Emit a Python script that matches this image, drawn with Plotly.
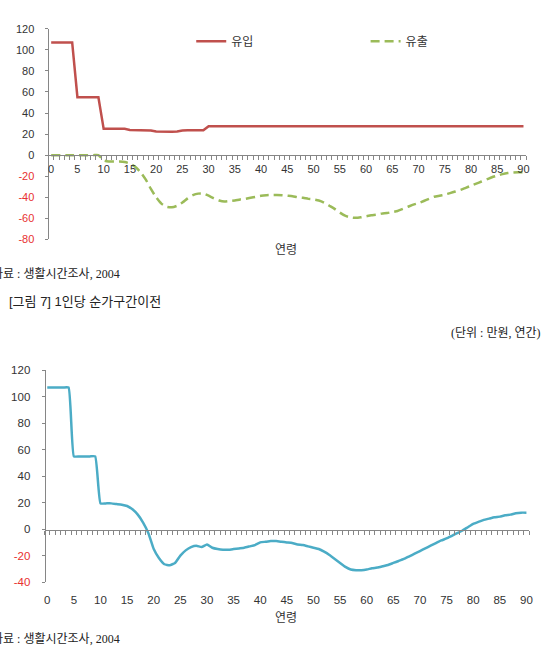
import plotly.graph_objects as go

W, H = 542, 667

ages = list(range(0, 91))
tick_vals = list(range(0, 91, 5))

inflow = [107, 107, 107, 107, 107, 55, 55, 55, 55, 55,
          25, 25, 25, 25, 25, 24, 24, 24, 24, 23.5,
          22.5, 22.3, 22.3, 22.3, 22.5, 23.5, 23.6, 23.6, 23.6, 23.6,
          27.5] + [27.5] * 60

outflow = [0, 0, 0, 0, 0, 0, 0, 0, 0, 0,
           -5, -6, -6, -6, -6.5, -8, -11, -16, -23, -32,
           -40, -46, -49, -49.5, -48, -45, -41, -38, -36.5, -36.5,
           -38.5, -41, -43, -44, -43.5, -43, -42, -41.5, -40.5, -39.5,
           -38.5, -38, -37.8, -37.8, -38, -38.5, -39, -40, -40.5, -41.5,
           -42, -43, -45, -48, -51, -54.5, -57.5, -59, -59.5, -59,
           -58, -57, -56.5, -55.5, -55, -54, -53, -51, -49, -47,
           -45.5, -43.5, -41.5, -39.5, -38.5, -37.5, -36, -34.5, -33, -31,
           -29, -27, -25, -23, -21, -19.5, -18, -17, -16.5, -16.3, -16.3]

net = [107, 107, 107, 107, 107, 55, 55, 55, 55, 55,
       19.5, 19.5, 19.5, 19, 18.5, 17.5, 15, 11, 5, -3,
       -15, -22, -26.5, -27.2, -25.5, -20, -16, -13.5, -12.5, -13.5,
       -11.5, -14, -15, -15.5, -15.5, -15, -14.5, -14, -13, -12,
       -10, -9.5, -9, -9, -9.5, -10, -10.5, -11.5, -12, -13,
       -14, -15, -17, -19.5, -22.5, -25.5, -28.5, -30.5, -31, -31,
       -30.5, -29.5, -29, -28, -27, -25.5, -24, -22.5, -20.5, -18.5,
       -16.5, -14.5, -12.5, -10.5, -8.5, -7, -5, -3, -1, 1.5,
       4, 5.5, 7, 8, 9, 9.5, 10.5, 11, 12, 12.5, 12.5]

top_y_vals = [120, 100, 80, 60, 40, 20, 0, -20, -40, -60, -80]
bot_y_vals = [120, 100, 80, 60, 40, 20, 0, -20, -40]

RED = "#C0504D"
GREEN = "#9BBB59"
BLUE = "#4BACC6"
AXIS = "#868686"
TXT = "#333333"
NEG = "#E8312F"
SANS = "Liberation Sans, Noto Sans CJK KR, sans-serif"
SERIF = "Liberation Serif, Noto Sans CJK KR, serif"


def px_x(p):
    return p / W


def px_y(p):
    return 1 - p / H


def tick_text(vals):
    out = []
    for v in vals:
        if v < 0:
            out.append(f"<span style='color:{NEG}'>-{abs(v)}</span>")
        else:
            out.append(str(v))
    return out


fig = go.Figure()

fig.add_trace(go.Scatter(x=ages, y=inflow, mode="lines", name="유입",
                         line=dict(color=RED, width=2.5),
                         legend="legend", xaxis="x", yaxis="y"))
fig.add_trace(go.Scatter(x=ages, y=outflow, mode="lines", name="유출",
                         line=dict(color=GREEN, width=2.5, dash="9px,5px",
                                   shape="spline", smoothing=0.6),
                         legend="legend2", xaxis="x", yaxis="y"))
fig.add_trace(go.Scatter(x=ages, y=net, mode="lines", name="순이전",
                         line=dict(color=BLUE, width=2.5, shape="spline",
                                   smoothing=0.4),
                         showlegend=False, xaxis="x2", yaxis="y2"))
fig.add_trace(go.Scatter(x=[None], y=[None], mode="lines", showlegend=False,
                         hoverinfo="skip", xaxis="x3", yaxis="y2"))

top_dom_x = [px_x(48), px_x(530)]
top_dom_y = [px_y(237.7), px_y(23.2)]
bot_dom_x = [px_x(44), px_x(533)]
bot_dom_y = [px_y(586.7), px_y(371)]

minor = dict(ticks="outside", ticklen=4, tickcolor=AXIS, tick0=0.5, dtick=1,
             showgrid=False)

leg_font = dict(family=SANS, size=12, color=TXT)

fig.update_layout(
    width=W, height=H,
    margin=dict(l=0, r=0, t=0, b=0),
    paper_bgcolor="white", plot_bgcolor="white",
    showlegend=True,
    legend=dict(x=px_x(192), y=px_y(36), xanchor="left", yanchor="middle",
                font=leg_font, bgcolor="rgba(0,0,0,0)", borderwidth=0),
    legend2=dict(x=px_x(368), y=px_y(36), xanchor="left", yanchor="middle",
                 font=leg_font, bgcolor="rgba(0,0,0,0)", borderwidth=0),
    xaxis=dict(domain=top_dom_x, range=[-0.5, 90.5], anchor="free",
               position=px_y(152), showline=True, linecolor=AXIS,
               linewidth=1, showgrid=False, zeroline=False,
               tickvals=tick_vals, ticks="", ticklabelstandoff=4,
               tickfont=dict(family=SANS, size=11, color=TXT),
               minor=minor),
    yaxis=dict(domain=top_dom_y, range=[-80, 120], anchor="x",
               showline=True, linecolor=AXIS, linewidth=1, showgrid=False,
               zeroline=False, tickvals=top_y_vals,
               ticktext=tick_text(top_y_vals), ticks="outside", ticklen=3,
               tickcolor=AXIS, ticklabelstandoff=8,
               tickfont=dict(family=SANS, size=11, color=TXT)),
    xaxis2=dict(domain=bot_dom_x, range=[-0.5, 90.5], anchor="y2",
                showline=False, showgrid=False, zeroline=False,
                tickvals=tick_vals, ticks="", ticklabelstandoff=9,
                tickfont=dict(family=SANS, size=11.5, color=TXT)),
    xaxis3=dict(domain=bot_dom_x, range=[-0.5, 90.5], anchor="free",
                overlaying="x2", position=px_y(533.3), showline=True,
                linecolor=AXIS, linewidth=1, showgrid=False, zeroline=False,
                showticklabels=False, ticks="", minor=minor),
    yaxis2=dict(domain=bot_dom_y, range=[-40, 120], anchor="free",
                position=bot_dom_x[0],
                showline=True, linecolor=AXIS, linewidth=1, showgrid=False,
                zeroline=False, tickvals=bot_y_vals,
                ticktext=tick_text(bot_y_vals), ticks="outside", ticklen=3,
                tickcolor=AXIS, ticklabelstandoff=9,
                tickfont=dict(family=SANS, size=11.5, color=TXT)),
)

annos = [
    dict(text="연령", x=px_x(288), y=px_y(248), xanchor="center",
         yanchor="middle", font=dict(family=SANS, size=12, color=TXT)),
    dict(text="자료 : 생활시간조사, 2004", x=px_x(-11), y=px_y(272.5),
         xanchor="left", yanchor="middle",
         font=dict(family=SERIF, size=12, color="#222222")),
    dict(text="[그림 7] 1인당 순가구간이전", x=px_x(6), y=px_y(301),
         xanchor="left", yanchor="middle",
         font=dict(family=SANS, size=13, color="#222222")),
    dict(text="(단위 : 만원, 연간)", x=px_x(452), y=px_y(333),
         xanchor="left", yanchor="middle",
         font=dict(family=SERIF, size=12, color="#222222")),
    dict(text="연령", x=px_x(288), y=px_y(623), xanchor="center",
         yanchor="middle", font=dict(family=SANS, size=12, color=TXT)),
    dict(text="자료 : 생활시간조사, 2004", x=px_x(-11), y=px_y(645),
         xanchor="left", yanchor="middle",
         font=dict(family=SERIF, size=12, color="#222222")),
]
for a in annos:
    a.update(xref="paper", yref="paper", showarrow=False)
fig.update_layout(annotations=annos)

fig.write_html("out.html")
